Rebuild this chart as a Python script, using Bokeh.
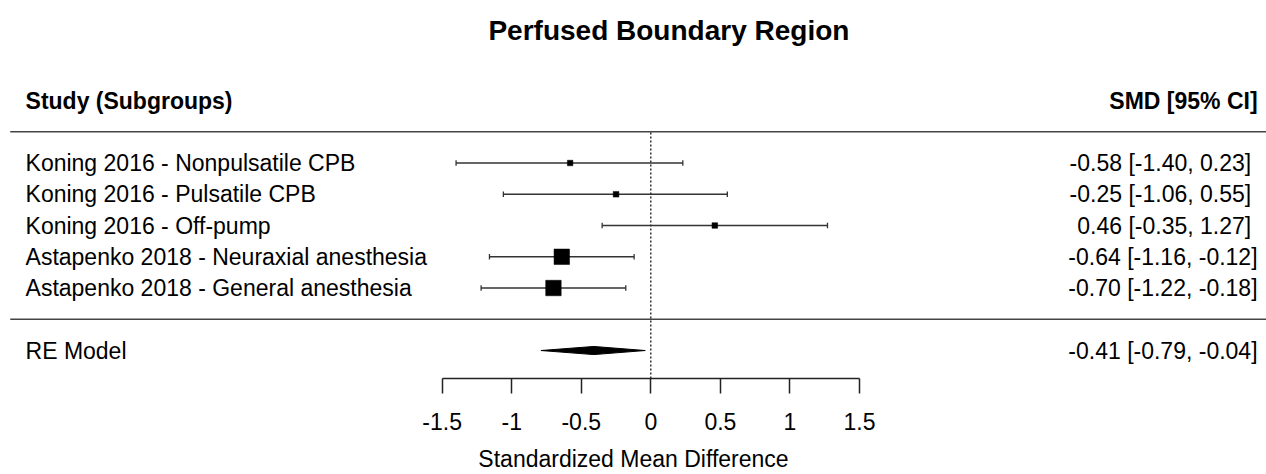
from bokeh.plotting import figure
from bokeh.models import Range1d, FixedTicker, CustomJSTickFormatter
from bokeh.core.properties import value
from bokeh.embed import file_html
from bokeh.resources import INLINE

# ---------------- data ----------------
title = "Perfused Boundary Region"
col_left = "Study (Subgroups)"
col_right = "SMD [95% CI]"
x_label = "Standardized Mean Difference"

studies = [
    "Koning 2016 - Nonpulsatile CPB",
    "Koning 2016 - Pulsatile CPB",
    "Koning 2016 - Off-pump",
    "Astapenko 2018 - Neuraxial anesthesia",
    "Astapenko 2018 - General anesthesia",
]
smd = [-0.58, -0.25, 0.46, -0.64, -0.70]
ci_lower = [-1.40, -1.06, -0.35, -1.16, -1.22]
ci_upper = [0.23, 0.55, 1.27, -0.12, -0.18]

re_label = "RE Model"
re_smd = -0.41
re_lower = -0.79
re_upper = -0.04

ticks = [-1.5, -1, -0.5, 0, 0.5, 1, 1.5]

# ---------------- layout ----------------
FONT = "Liberation Sans"
k = len(studies)
rows = list(range(k, 0, -1))
re_row = -1
header_row = k + 2
top_line_row = k + 1
bottom_line_row = 0
title_row = k + 4.24

x_min, x_max = -4.675, 4.426
y_min, y_max = -1.895, 10.20
x_text_left = -4.495
x_text_right = 4.3616
x_line_left = -4.605

# square size from inverse-variance weights
se = [(u - l) / (2 * 1.959964) for l, u in zip(ci_lower, ci_upper)]
w = [1 / s ** 2 for s in se]
wmin, wmax = min(w), max(w)
sizes = [5.5 + (wi - wmin) / (wmax - wmin) * 10.0 if wmax > wmin else 10 for wi in w]

def fmt(m, l, u):
    return f"{m:.2f} [{l:5.2f}, {u:5.2f}]"

annot = [fmt(m, l, u) for m, l, u in zip(smd, ci_lower, ci_upper)]
re_annot = fmt(re_smd, re_lower, re_upper)

p = figure(
    width=1266, height=474,
    x_range=Range1d(x_min, x_max), y_range=Range1d(y_min, y_max),
    output_backend="svg", toolbar_location=None,
    y_axis_location=None, x_axis_location="below",
    min_border_left=0, min_border_right=0, min_border_top=0, min_border_bottom=95,
)
p.outline_line_color = None
p.xgrid.grid_line_color = None
p.ygrid.grid_line_color = None
p.background_fill_color = "white"
p.border_fill_color = "white"

# separator lines
p.segment(x0=[x_line_left, x_line_left], y0=[top_line_row, bottom_line_row],
          x1=[x_max, x_max], y1=[top_line_row, bottom_line_row],
          line_color="#444444", line_width=1.6)

# reference line at 0
p.segment(x0=[0], y0=[y_min], x1=[0], y1=[top_line_row],
          line_color="black", line_width=1.2, line_dash="2 2")

# CIs
cap = 0.085
p.segment(x0=ci_lower, y0=rows, x1=ci_upper, y1=rows, line_color="#333333", line_width=1.3)
p.segment(x0=ci_lower, y0=[r - cap for r in rows], x1=ci_lower, y1=[r + cap for r in rows],
          line_color="#333333", line_width=1.3)
p.segment(x0=ci_upper, y0=[r - cap for r in rows], x1=ci_upper, y1=[r + cap for r in rows],
          line_color="#333333", line_width=1.3)
p.scatter(x=smd, y=rows, marker="square", size=sizes, fill_color="black", line_color="black", line_width=0.5)

# summary diamond
dh = 0.13
p.patch(x=[re_lower, re_smd, re_upper, re_smd], y=[re_row, re_row + dh, re_row, re_row - dh],
        fill_color="black", line_color="black", line_width=1)

# texts
p.text(x=[x_text_left] * k, y=rows, text=studies, text_font=value(FONT), text_font_size="23px",
       text_align="left", text_baseline="middle", text_color="black")
p.text(x=[x_text_left], y=[re_row], text=[re_label], text_font=value(FONT), text_font_size="23px",
       text_align="left", text_baseline="middle", text_color="black")
p.text(x=[x_text_right] * k, y=rows, text=annot, text_font=value(FONT), text_font_size="23px",
       text_align="right", text_baseline="middle", text_color="black")
p.text(x=[x_text_right], y=[re_row], text=[re_annot], text_font=value(FONT), text_font_size="23px",
       text_align="right", text_baseline="middle", text_color="black")
p.text(x=[x_text_left], y=[header_row], text=[col_left], text_font=value(FONT), text_font_size="23px",
       text_font_style="bold", text_align="left", text_baseline="middle", text_color="black")
p.text(x=[x_text_right], y=[header_row], text=[col_right], text_font=value(FONT), text_font_size="23px",
       text_font_style="bold", text_align="right", text_baseline="middle", text_color="black")
p.text(x=[0.13], y=[title_row], text=[title], text_font=value(FONT), text_font_size="28px",
       text_font_style="bold", text_align="center", text_baseline="middle", text_color="black")

# axis
ax = p.xaxis[0]
ax.ticker = FixedTicker(ticks=ticks)
ax.formatter = CustomJSTickFormatter(code="return tick.toString();")
ax.bounds = (ticks[0], ticks[-1])
ax.axis_line_width = 1.5
ax.axis_line_color = "#222222"
ax.major_tick_line_width = 1.5
ax.major_tick_line_color = "#222222"
ax.major_tick_in = 0
ax.major_tick_out = 15
ax.minor_tick_line_color = None
ax.major_label_text_font = FONT
ax.major_label_text_font_size = "23px"
ax.major_label_text_color = "black"
ax.major_label_standoff = 19
ax.axis_label = x_label
ax.axis_label_text_font = FONT
ax.axis_label_text_font_size = "23px"
ax.axis_label_text_font_style = "normal"
ax.axis_label_text_color = "black"
ax.axis_label_standoff = 13

open("out.html", "w").write(file_html(p, INLINE))
